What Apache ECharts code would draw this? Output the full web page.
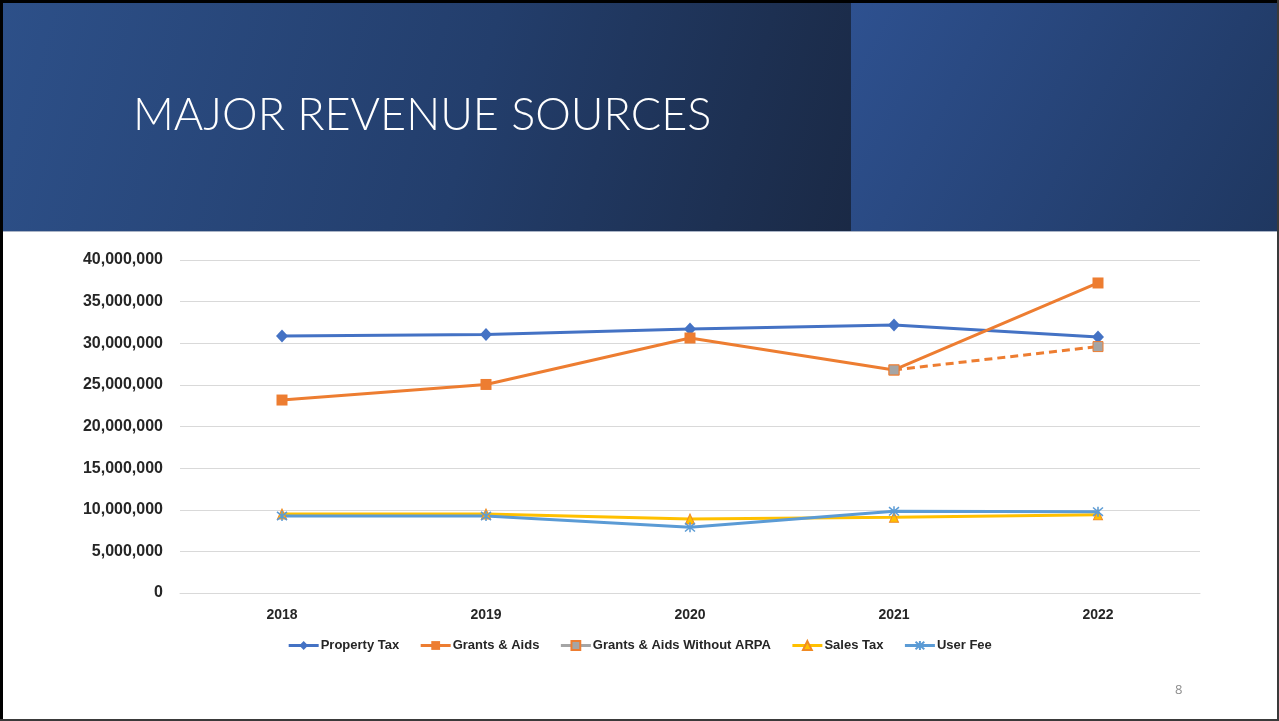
<!DOCTYPE html>
<html>
<head>
<meta charset="utf-8">
<script src="https://cdn.jsdelivr.net/npm/echarts@6/dist/echarts.min.js"></script>
<style>
  html, body { margin: 0; padding: 0; background: #fff; }
  #slide { width: 1279px; height: 721px; }
</style>
</head>
<body>
<div id="slide"></div>
<script>
// revenue by year
const years = ['2018', '2019', '2020', '2021', '2022'];
const propertyTax = [30870000, 31050000, 31700000, 32190000, 30750000];
const grantsAids = [23180000, 25050000, 30630000, 26790000, 37240000];
const grantsNoArpa = [null, null, null, 26790000, 29600000];
const salesTax = [9490000, 9490000, 8890000, 9090000, 9400000];
const userFee = [9250000, 9250000, 7890000, 9810000, 9770000];

const myChart = echarts.init(document.getElementById('slide'));

const labelFont = 'Liberation Sans, Arial, sans-serif';
const starPath = 'path://M0,0L10,10M10,0L0,10M5,-1L5,11';

const option = {
  backgroundColor: '#ffffff',
  animation: false,
  graphic: [
    // header panels
    {
      type: 'rect', z: 0,
      shape: { x: 0, y: 0, width: 851, height: 231 },
      style: {
        fill: new echarts.graphic.LinearGradient(0, 0, 1, 1, [
          { offset: 0, color: '#2d5089' },
          { offset: 0.55, color: '#233e6c' },
          { offset: 1, color: '#1a2945' }
        ])
      }
    },
    {
      type: 'rect', z: 0,
      shape: { x: 851, y: 0, width: 428, height: 231 },
      style: {
        fill: new echarts.graphic.LinearGradient(0, 0, 1, 1, [
          { offset: 0, color: '#2e5190' },
          { offset: 1, color: '#1f3760' }
        ])
      }
    },
    {
      type: 'rect', z: 1,
      shape: { x: 0, y: 231, width: 1279, height: 1 },
      style: { fill: '#aab4c6' }
    },
    {
      type: 'text', z: 2,
      left: 133, top: 93,
      style: {
        text: 'MAJOR REVENUE SOURCES',
        fill: '#ffffff',
        font: '300 45px Lato, "Open Sans", sans-serif'
      }
    },
    // slide number
    {
      type: 'text', z: 2,
      left: 1175, top: 684,
      style: { text: '8', fill: '#8c8c8c', font: '13px "Open Sans", sans-serif' }
    },
    // slide border
    { type: 'rect', z: 5, shape: { x: 0, y: 0, width: 1279, height: 3 }, style: { fill: '#000' } },
    { type: 'rect', z: 5, shape: { x: 0, y: 0, width: 3, height: 721 }, style: { fill: '#000' } },
    { type: 'rect', z: 5, shape: { x: 1277, y: 0, width: 2, height: 721 }, style: { fill: '#3a3a3a' } },
    { type: 'rect', z: 5, shape: { x: 0, y: 719, width: 1279, height: 2 }, style: { fill: '#3a3a3a' } }
  ],
  grid: { left: 180, right: 79, top: 260, bottom: 128, containLabel: false },
  legend: {
    bottom: 64,
    left: 'center',
    itemWidth: 30,
    itemHeight: 11,
    itemGap: 20,
    textStyle: { fontFamily: labelFont, fontWeight: 'bold', fontSize: 13, color: '#262626', padding: [0, 0, 0, -3] },
    data: [
      { name: 'Property Tax', lineStyle: { width: 3 } },
      { name: 'Grants & Aids', lineStyle: { width: 3 } },
      { name: 'Grants & Aids Without ARPA', lineStyle: { color: '#a5a5a5', type: 'solid', width: 3 } },
      { name: 'Sales Tax', lineStyle: { width: 3 } },
      { name: 'User Fee', lineStyle: { width: 3 } }
    ]
  },
  xAxis: {
    type: 'category',
    data: years,
    axisLine: { lineStyle: { color: '#d9d9d9', width: 1 } },
    axisTick: { show: false },
    axisLabel: { margin: 15, fontFamily: labelFont, fontWeight: 'bold', fontSize: 14, color: '#262626' }
  },
  yAxis: {
    type: 'value',
    min: 0,
    max: 40000000,
    interval: 5000000,
    axisLine: { show: false },
    axisTick: { show: false },
    splitLine: { lineStyle: { color: '#d9d9d9', width: 1 } },
    axisLabel: {
      margin: 17,
      fontFamily: labelFont, fontWeight: 'bold', fontSize: 16, color: '#262626',
      formatter: v => v.toLocaleString('en-US')
    }
  },
  series: [
    {
      name: 'Property Tax', type: 'line', data: propertyTax,
      symbol: 'diamond', symbolSize: [12, 13],
      lineStyle: { color: '#4472c4', width: 3 },
      itemStyle: { color: '#4472c4' }
    },
    {
      name: 'Grants & Aids', type: 'line', data: grantsAids,
      symbol: 'rect', symbolSize: 11,
      lineStyle: { color: '#ed7d31', width: 3 },
      itemStyle: { color: '#ed7d31' }
    },
    {
      name: 'Grants & Aids Without ARPA', type: 'line', data: grantsNoArpa,
      symbol: 'rect', symbolSize: 10,
      connectNulls: false,
      lineStyle: { color: '#ed7d31', width: 3, type: [8, 5] },
      itemStyle: { color: '#a5a5a5', borderColor: '#ed7d31', borderWidth: 1 }
    },
    {
      name: 'Sales Tax', type: 'line', data: salesTax,
      symbol: 'triangle', symbolSize: [9, 10],
      lineStyle: { color: '#ffc000', width: 3 },
      itemStyle: { color: '#ffc000', borderColor: '#f08a24', borderWidth: 1 }
    },
    {
      name: 'User Fee', type: 'line', data: userFee,
      symbol: starPath, symbolSize: 10,
      lineStyle: { color: '#5b9bd5', width: 3 },
      itemStyle: { color: '#5b9bd5', borderColor: '#5b9bd5', borderWidth: 1.5 }
    }
  ]
};

myChart.setOption(option);
</script>
</body>
</html>
